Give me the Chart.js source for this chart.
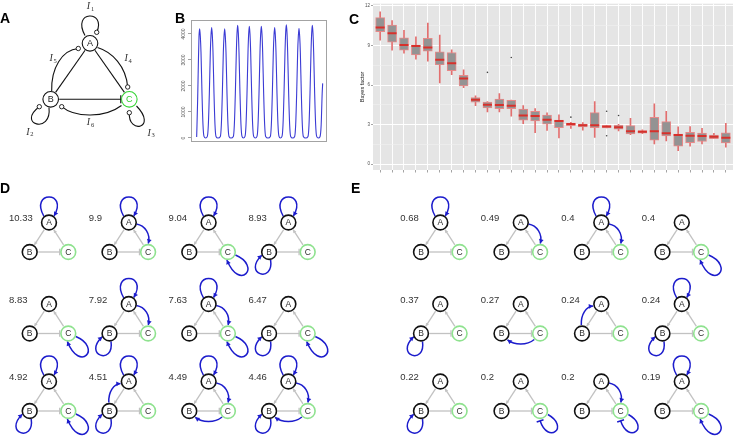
<!DOCTYPE html>
<html>
<head>
<meta charset="utf-8">
<script src="https://cdn.jsdelivr.net/npm/chart.js@4.4.0/dist/chart.umd.min.js"></script>
<style>
  body { margin: 0; background: #fff; }
  #page { position: relative; width: 733px; height: 437px; overflow: hidden; background: #fff;
          font-family: "Liberation Sans", Arial, sans-serif; }
  canvas { position: absolute; }
  .tag { position: absolute; font-weight: bold; font-size: 14px; line-height: 14px; color: #000; }
</style>
</head>
<body>
<div id="page">
  <canvas id="netA" width="172" height="145" style="left:0;top:0"></canvas>
  <canvas id="oscB" width="151" height="134" style="left:176px;top:8px"></canvas>
  <canvas id="bayesC" width="393" height="180" style="left:340px;top:0"></canvas>
  <canvas id="motifs" width="733" height="257" style="left:0;top:180px"></canvas>
  <div class="tag" style="left:0;top:11px">A</div>
  <div class="tag" style="left:175px;top:11px">B</div>
  <div class="tag" style="left:349px;top:12px">C</div>
  <div class="tag" style="left:0;top:181px">D</div>
  <div class="tag" style="left:351px;top:181px">E</div>
</div>
<script>
// ─────────────────────────────────────────────────────────────
// DATA
// ─────────────────────────────────────────────────────────────
// panel A: network
const nodeNamesA = ['A', 'B', 'C'];
const nodeXA = [90, 50.7, 129.3];
const nodeYA = [43.3, 99.3, 99.3];
const interactionsA = ['I1', 'I2', 'I3', 'I4', 'I5', 'I6'];

// panel B: time course of C
const timeB = [
  0, 3, 5, 7, 9, 11, 13, 16, 19, 22, 27,
  32, 35, 38, 41, 43, 45, 47, 49, 52, 55, 58, 64,
  71, 74, 77, 80, 82, 84, 86, 88, 91, 94, 97, 103,
  110, 113, 116, 119, 121, 123, 125, 127, 130, 133, 136, 140,
  145, 148, 151, 154, 156, 158, 160, 162, 165, 168, 171, 176,
  181, 184, 187, 190, 192, 194, 196, 198, 201, 204, 207, 214,
  221, 224, 227, 230, 232, 234, 236, 238, 241, 244, 247, 251,
  256, 259, 262, 265, 267, 269, 271, 273, 276, 279, 282, 288,
  294, 297, 300, 303, 305, 307, 309, 311, 314, 317, 320, 327,
  334, 337, 340, 343, 345, 347, 349, 351, 354, 357, 360, 365,
  370, 373.5, 376.5, 378
];
const levelB = [
  40, 1500, 2800, 3900, 4200, 3900, 3300, 1700, 500, 60, 0,
  60, 500, 1700, 3300, 3950, 4250, 3950, 3300, 1700, 500, 60, 0,
  60, 500, 1700, 3300, 3900, 4200, 3900, 3300, 1700, 500, 60, 0,
  60, 500, 1700, 3300, 4030, 4330, 4030, 3300, 1700, 500, 60, 0,
  60, 500, 1700, 3300, 4000, 4300, 4000, 3300, 1700, 500, 60, 0,
  60, 500, 1700, 3300, 4000, 4300, 4000, 3300, 1700, 500, 60, 0,
  60, 500, 1700, 3300, 3950, 4250, 3950, 3300, 1700, 500, 60, 0,
  60, 500, 1700, 3300, 4050, 4350, 4050, 3300, 1700, 500, 60, 0,
  60, 500, 1700, 3300, 3920, 4220, 3920, 3300, 1700, 500, 60, 0,
  60, 500, 1700, 3300, 4030, 4330, 4030, 3300, 1700, 500, 60, 0,
  50, 500, 1700, 2100
];
const ticksB = [0, 1000, 2000, 3000, 4000];

// panel C: Bayes factor box plots (30 models)
const bfHigh = [11.56, 10.89, 10.15, 9.65, 10.69, 9.78, 8.66, 7.15, 5.17, 4.75, 5.35, 4.85, 4.43, 4.21, 3.89,
                3.74, 3.17, 3.14, 4.75, 2.92, 3.02, 3.47, 2.60, 4.58, 4.01, 2.82, 2.85, 2.72, 2.33, 3.09];
const bfQ3   = [11.11, 10.54, 9.58, 9.03, 9.55, 8.51, 8.47, 6.73, 5.05, 4.70, 4.93, 4.83, 4.18, 4.01, 3.71,
                3.34, 3.12, 3.04, 3.91, 2.92, 2.95, 2.92, 2.55, 3.54, 3.22, 2.28, 2.40, 2.35, 2.20, 2.38];
const bfMed  = [10.37, 9.93, 9.03, 8.96, 8.84, 7.92, 7.65, 6.49, 4.88, 4.50, 4.48, 4.43, 3.69, 3.64, 3.37,
                3.27, 3.04, 2.95, 2.95, 2.85, 2.80, 2.50, 2.45, 2.50, 2.33, 2.20, 2.15, 2.13, 2.08, 2.00];
const bfQ1   = [10.05, 9.26, 8.64, 8.29, 8.56, 7.52, 7.08, 5.94, 4.70, 4.26, 4.21, 4.21, 3.34, 3.27, 3.02,
                2.77, 2.92, 2.82, 2.77, 2.75, 2.65, 2.28, 2.35, 1.81, 2.13, 1.36, 1.63, 1.71, 1.93, 1.61];
const bfLow  = [9.41, 8.64, 8.42, 7.97, 7.80, 6.16, 6.78, 5.79, 4.43, 3.96, 3.96, 3.64, 3.07, 2.38, 2.55,
                1.98, 2.70, 2.57, 2.03, 2.75, 2.52, 2.23, 2.30, 1.53, 1.76, 1.01, 1.36, 1.53, 1.93, 1.29];
const outlierIdx = [10, 12, 17, 20, 20, 21];
const outlierVal = [6.96, 8.09, 3.56, 4.01, 2.15, 3.69];
const gridC = [0, 1.5, 3, 4.5, 6, 7.5, 9, 10.5, 12];

// panels D, E: top models and their Bayes factors
const scoresD = [10.33, 9.9, 9.04, 8.93, 8.83, 7.92, 7.63, 6.47, 4.92, 4.51, 4.49, 4.46];
const linksD = [['AA'], ['AA', 'AC'], ['AA', 'CC'], ['AA', 'BB'],
                ['CC'], ['AA', 'AC', 'BB'], ['AA', 'AC', 'CC'], ['BB', 'CC'],
                ['AA', 'BB', 'CC'], ['AA', 'BA', 'BB'], ['AA', 'AC', 'CB'], ['AA', 'AC', 'CB', 'BB']];
const scoresE = [0.68, 0.49, 0.4, 0.4, 0.37, 0.27, 0.24, 0.24, 0.22, 0.2, 0.2, 0.19];
const linksE = [['AA'], ['AC'], ['AA', 'AC'], ['CC'],
                ['BB'], ['CB'], ['BA'], ['AA', 'BB'],
                ['BB'], ['CCi'], ['AC', 'CCi'], ['AA', 'CC']];

// ─────────────────────────────────────────────────────────────
// HELPERS
// ─────────────────────────────────────────────────────────────
Chart.defaults.font.family = '"Liberation Sans", Arial, sans-serif';
Chart.defaults.animation = false;

const BLUE = '#1c1ccc';
const GREY = '#c2c2c2';

const px = (chart, x, y) => [chart.scales.x.getPixelForValue(x), chart.scales.y.getPixelForValue(y)];

function arrowHead(ctx, tip, from, color, len, half) {
  const dx = tip[0] - from[0], dy = tip[1] - from[1];
  const d = Math.hypot(dx, dy) || 1;
  const ux = dx / d, uy = dy / d;
  ctx.beginPath();
  ctx.moveTo(tip[0], tip[1]);
  ctx.lineTo(tip[0] - ux * len - uy * half, tip[1] - uy * len + ux * half);
  ctx.lineTo(tip[0] - ux * len + uy * half, tip[1] - uy * len - ux * half);
  ctx.closePath();
  ctx.fillStyle = color;
  ctx.fill();
}

function barHead(ctx, tip, from, color, half, width) {
  const dx = tip[0] - from[0], dy = tip[1] - from[1];
  const d = Math.hypot(dx, dy) || 1;
  const nx = -dy / d, ny = dx / d;
  ctx.beginPath();
  ctx.moveTo(tip[0] + nx * half, tip[1] + ny * half);
  ctx.lineTo(tip[0] - nx * half, tip[1] - ny * half);
  ctx.strokeStyle = color;
  ctx.lineWidth = width;
  ctx.stroke();
}

function smallDot(ctx, p) {
  ctx.beginPath();
  ctx.arc(p[0], p[1], 2.2, 0, Math.PI * 2);
  ctx.fillStyle = '#fff';
  ctx.fill();
  ctx.lineWidth = 0.9;
  ctx.strokeStyle = '#111';
  ctx.stroke();
}

function curve(ctx, pts, color, width) {
  ctx.beginPath();
  ctx.moveTo(pts[0][0], pts[0][1]);
  ctx.bezierCurveTo(pts[1][0], pts[1][1], pts[2][0], pts[2][1], pts[3][0], pts[3][1]);
  ctx.strokeStyle = color;
  ctx.lineWidth = width;
  ctx.stroke();
}

function trimmed(p, q, ra, rb) {
  const dx = q[0] - p[0], dy = q[1] - p[1];
  const d = Math.hypot(dx, dy);
  return [[p[0] + dx / d * ra, p[1] + dy / d * ra], [q[0] - dx / d * rb, q[1] - dy / d * rb]];
}

// ─────────────────────────────────────────────────────────────
// PANEL A: network scheme
// ─────────────────────────────────────────────────────────────
const curvesA = {
  I1: { pts: [[85, 35.5], [71, 10], [107, 10], [96.7, 32.3]], dot: 3, label: [90, 6.5] },
  I2: { pts: [[49, 107.5], [52, 135], [16, 124], [39.3, 106.7]], dot: 3, label: [29.3, 132] },
  I3: { pts: [[129.3, 112.7], [128, 135], [158, 128], [136.5, 106]], dot: 0, label: [150.7, 133] },
  I4: { pts: [[97.5, 47.5], [112, 52], [126, 66], [127.7, 87]], dot: 3, label: [127.7, 58.3] },
  I5: { pts: [[51.7, 91], [51, 68], [62, 50], [78.3, 48.5]], dot: 3, label: [52.7, 58.3] },
  I6: { pts: [[61.7, 106.7], [75, 118], [105, 118], [121.5, 105.5]], dot: 0, label: [90, 122.7] },
};

const netAPlugin = {
  id: 'netA',
  beforeDatasetsDraw(chart) {
    const ctx = chart.ctx;
    const at = i => px(chart, nodeXA[i], nodeYA[i]);
    ctx.save();
    ctx.lineCap = 'butt';
    // straight links
    const [a1, b1] = trimmed(at(0), at(1), 8.5, 8.5);
    const [a2, c2] = trimmed(at(0), at(2), 8.5, 8.5);
    const [b3, c3] = trimmed(at(1), at(2), 8.5, 8.5);
    [[a1, b1], [a2, c2], [b3, c3]].forEach(([p, q]) => {
      ctx.beginPath(); ctx.moveTo(p[0], p[1]); ctx.lineTo(q[0], q[1]);
      ctx.strokeStyle = '#111'; ctx.lineWidth = 1.1; ctx.stroke();
    });
    barHead(ctx, c3, b3, '#111', 4, 1.2);
    // interaction curves
    interactionsA.forEach(name => {
      const c = curvesA[name];
      const pts = c.pts.map(p => px(chart, p[0], p[1]));
      curve(ctx, pts, '#111', 1.1);
      smallDot(ctx, pts[c.dot]);
    });
    ctx.restore();
  },
  afterDatasetsDraw(chart) {
    const ctx = chart.ctx;
    ctx.save();
    ctx.textAlign = 'center';
    ctx.textBaseline = 'middle';
    ctx.font = '9px "Liberation Sans", Arial, sans-serif';
    nodeNamesA.forEach((n, i) => {
      const p = px(chart, nodeXA[i], nodeYA[i]);
      ctx.fillStyle = n === 'C' ? '#2fcf2f' : '#222';
      ctx.fillText(n, p[0], p[1] + 0.5);
    });
    interactionsA.forEach(name => {
      const p = px(chart, curvesA[name].label[0], curvesA[name].label[1]);
      ctx.fillStyle = '#333';
      ctx.font = 'italic 10px "Liberation Serif", "DejaVu Serif", serif';
      ctx.fillText(name[0], p[0] - 1.5, p[1]);
      ctx.font = '6.5px "Liberation Serif", "DejaVu Serif", serif';
      ctx.fillText(name.slice(1), p[0] + 2.5, p[1] + 2.5);
    });
    ctx.restore();
  }
};

new Chart(document.getElementById('netA'), {
  type: 'scatter',
  data: {
    datasets: [{
      data: nodeNamesA.map((n, i) => ({ x: nodeXA[i], y: nodeYA[i] })),
      pointRadius: 7.8,
      pointBorderWidth: 1.1,
      pointBackgroundColor: '#fff',
      pointBorderColor: nodeNamesA.map(n => n === 'C' ? '#35d435' : '#111'),
      clip: false,
    }]
  },
  options: {
    responsive: false, events: [],
    layout: { padding: 0, autoPadding: false },
    plugins: { legend: { display: false }, tooltip: { enabled: false } },
    scales: {
      x: { type: 'linear', min: 0, max: 172, display: false },
      y: { type: 'linear', min: 0, max: 145, reverse: true, display: false },
    }
  },
  plugins: [netAPlugin]
});

// ─────────────────────────────────────────────────────────────
// PANEL B: oscillation
// ─────────────────────────────────────────────────────────────
const frameB = {
  id: 'frameB',
  afterDraw(chart) {
    const { ctx, chartArea: a } = chart;
    ctx.save();
    ctx.strokeStyle = '#a3a3a3';
    ctx.lineWidth = 1;
    ctx.strokeRect(Math.round(a.left) + 0.5, Math.round(a.top) + 0.5,
                   Math.round(a.right - a.left) - 1, Math.round(a.bottom - a.top) - 1);
    // rotated y tick labels, R style
    const s = chart.scales.y;
    ctx.fillStyle = '#555';
    ctx.font = '5px "Liberation Sans", Arial, sans-serif';
    ctx.textAlign = 'center';
    ctx.textBaseline = 'middle';
    s.ticks.forEach(t => {
      ctx.save();
      ctx.translate(a.left - 7, s.getPixelForValue(t.value));
      ctx.rotate(-Math.PI / 2);
      ctx.fillText(String(t.value), 0, 0);
      ctx.restore();
    });
    ctx.restore();
  }
};

new Chart(document.getElementById('oscB'), {
  type: 'line',
  data: {
    datasets: [{
      data: timeB.map((t, i) => ({ x: t, y: levelB[i] })),
      borderColor: '#3b3bd4',
      borderWidth: 1.1,
      pointRadius: 0,
      cubicInterpolationMode: 'monotone',
      fill: false,
    }]
  },
  options: {
    responsive: false, events: [],
    layout: { padding: { top: 12, right: 0, bottom: 0, left: 0 }, autoPadding: false },
    plugins: { legend: { display: false }, tooltip: { enabled: false } },
    scales: {
      x: { type: 'linear', min: -17, max: 391, display: false },
      y: {
        type: 'linear', min: -154, max: 4538,
        afterBuildTicks: s => { s.ticks = ticksB.map(v => ({ value: v })); },
        afterFit: s => { s.width = 15; },
        ticks: { display: false },
        grid: { drawOnChartArea: false, drawTicks: true, tickLength: 3, tickColor: '#8a8a8a', tickWidth: 0.8 },
        border: { display: false },
      }
    }
  },
  plugins: [frameB]
});

// ─────────────────────────────────────────────────────────────
// PANEL C: Bayes factor box plots
// ─────────────────────────────────────────────────────────────
const ggBackground = {
  id: 'ggBackground',
  beforeDraw(chart) {
    const { ctx, chartArea: a } = chart;
    ctx.save();
    ctx.fillStyle = '#e5e5e5';
    ctx.fillRect(a.left, a.top, a.right - a.left, a.bottom - a.top);
    ctx.restore();
  }
};

const modelIdx = bfMed.map((v, i) => i + 1);

new Chart(document.getElementById('bayesC'), {
  type: 'bar',
  data: {
    datasets: [
      {
        type: 'bar',
        data: modelIdx.map((x, i) => ({ x, y: [bfLow[i], bfHigh[i]] })),
        backgroundColor: '#e36f6f',
        barThickness: 1,
        order: 4,
      },
      {
        type: 'bar',
        data: modelIdx.map((x, i) => ({ x, y: [bfQ1[i], bfQ3[i]] })),
        backgroundColor: '#939393',
        borderColor: '#e88888',
        borderWidth: 1,
        borderSkipped: false,
        barThickness: 9,
        order: 3,
      },
      {
        type: 'scatter',
        data: modelIdx.map((x, i) => ({ x, y: bfMed[i] })),
        pointStyle: 'line',
        pointRadius: 4.5,
        borderColor: '#d7302b',
        borderWidth: 2,
        order: 2,
      },
      {
        type: 'scatter',
        data: outlierIdx.map((x, i) => ({ x, y: outlierVal[i] })),
        pointRadius: 0.8,
        backgroundColor: '#444',
        borderWidth: 0,
        order: 1,
      }
    ]
  },
  options: {
    responsive: false, events: [],
    layout: { padding: 0, autoPadding: false },
    datasets: { bar: { grouped: false } },
    plugins: { legend: { display: false }, tooltip: { enabled: false } },
    scales: {
      x: {
        type: 'linear', min: 0.4, max: 30.6, offset: false,
        afterBuildTicks: s => { s.ticks = modelIdx.map(v => ({ value: v })); },
        afterFit: s => { s.height = 10; },
        ticks: { callback: () => '', font: { size: 4 } },
        grid: { offset: false, color: '#ffffff', lineWidth: 0.9, drawTicks: true, tickLength: 2.5,
                tickColor: '#666', tickWidth: 0.6 },
        border: { display: false },
      },
      y: {
        type: 'linear', min: -0.45, max: 12.17,
        afterBuildTicks: s => { s.ticks = gridC.map(v => ({ value: v })); },
        afterFit: s => { s.width = 33; },
        ticks: {
          callback: v => (v % 3 === 0 ? String(v) : ''),
          font: { size: 4.5 }, color: '#4d4d4d', padding: 1,
        },
        grid: {
          color: c => (c.tick && c.tick.value % 3 === 0 ? '#ffffff' : '#f0f0f0'),
          lineWidth: c => (c.tick && c.tick.value % 3 === 0 ? 1 : 0.6),
          drawTicks: true, tickLength: 2,
          tickColor: c => (c.tick && c.tick.value % 3 === 0 ? '#666' : 'rgba(0,0,0,0)'),
          tickWidth: 0.6,
        },
        border: { display: false },
        title: { display: true, text: 'Bayes factor', color: '#111', font: { size: 5.5 },
                 padding: { top: 18.7, bottom: 0 } },
      }
    }
  },
  plugins: [ggBackground]
});

// ─────────────────────────────────────────────────────────────
// PANELS D, E: model motifs
// ─────────────────────────────────────────────────────────────
const LAYOUT = {
  D: { x0: 49, dx: 79.8 },
  E: { x0: 440.3, dx: 80.5 },
  rows: [222.5, 304, 381.5],
  B: [-19.3, 29.5],
  C: [19.3, 29.5],
};

// blue interaction paths, relative to node A of a motif
const LINK_PATHS = {
  AA:  { pts: [[-5, -6], [-20, -32], [20, -32], [5, -6.5]], end: 'arrow' },
  BB:  { pts: [[-17.8, 37.3], [-14.3, 61.5], [-46.3, 51.5], [-26.6, 32.7]], end: 'arrow' },
  CC:  { pts: [[26.8, 32.5], [53.3, 43.5], [31.3, 69.5], [18.3, 37.5]], end: 'arrow' },
  CCi: { pts: [[27.1, 33], [49.3, 45.5], [27.3, 63.5], [19.3, 39.3]], end: 'bar' },
  AC:  { pts: [[7.6, 1.5], [16, 3], [22, 11], [19.5, 21]], end: 'arrow' },
  CB:  { pts: [[13.5, 35.5], [6, 41.5], [-6, 41.5], [-13.3, 35.8]], end: 'arrow' },
  BA:  { pts: [[-20, 21], [-20.5, 10], [-15, 2.5], [-8.3, 2]], end: 'arrow' },
};

const motifList = [];
[['D', scoresD, linksD], ['E', scoresE, linksE]].forEach(([panel, scores, links]) => {
  scores.forEach((score, k) => {
    motifList.push({
      x: LAYOUT[panel].x0 + (k % 4) * LAYOUT[panel].dx,
      y: LAYOUT.rows[Math.floor(k / 4)],
      score, links: links[k],
    });
  });
});

const motifNodes = [];
motifList.forEach(m => {
  motifNodes.push({ x: m.x, y: m.y, name: 'A' });
  motifNodes.push({ x: m.x + LAYOUT.B[0], y: m.y + LAYOUT.B[1], name: 'B' });
  motifNodes.push({ x: m.x + LAYOUT.C[0], y: m.y + LAYOUT.C[1], name: 'C' });
});

const motifPlugin = {
  id: 'motifs',
  beforeDatasetsDraw(chart) {
    const ctx = chart.ctx;
    ctx.save();
    ctx.lineCap = 'butt';
    motifList.forEach(m => {
      const A = px(chart, m.x, m.y);
      const B = px(chart, m.x + LAYOUT.B[0], m.y + LAYOUT.B[1]);
      const C = px(chart, m.x + LAYOUT.C[0], m.y + LAYOUT.C[1]);
      // grey backbone: A -> B, C -> A, B -| C
      [[A, B, 'arrow'], [C, A, 'arrow'], [B, C, 'bar']].forEach(([p, q, end]) => {
        const [s, e] = trimmed(p, q, 8.6, 8.6);
        ctx.beginPath(); ctx.moveTo(s[0], s[1]); ctx.lineTo(e[0], e[1]);
        ctx.strokeStyle = GREY; ctx.lineWidth = 1.3; ctx.stroke();
        if (end === 'arrow') arrowHead(ctx, e, s, GREY, 3.2, 1.8);
        else barHead(ctx, e, s, GREY, 3.3, 1.3);
      });
      // blue links of the model
      m.links.forEach(code => {
        const path = LINK_PATHS[code];
        const pts = path.pts.map(p => px(chart, m.x + p[0], m.y + p[1]));
        curve(ctx, pts, BLUE, 1.5);
        if (path.end === 'arrow') arrowHead(ctx, pts[3], pts[2], BLUE, 4.2, 2.4);
        else barHead(ctx, pts[3], pts[2], BLUE, 3.6, 1.5);
      });
    });
    ctx.restore();
  },
  afterDatasetsDraw(chart) {
    const ctx = chart.ctx;
    ctx.save();
    ctx.textBaseline = 'middle';
    ctx.fillStyle = '#2b2b2b';
    ctx.font = '8.5px "Liberation Sans", Arial, sans-serif';
    ctx.textAlign = 'center';
    motifNodes.forEach(n => {
      const p = px(chart, n.x, n.y);
      ctx.fillText(n.name, p[0], p[1] + 0.5);
    });
    ctx.font = '9.5px "Liberation Sans", Arial, sans-serif';
    ctx.textAlign = 'left';
    ctx.fillStyle = '#333';
    motifList.forEach(m => {
      const p = px(chart, m.x - 40, m.y - 4);
      ctx.fillText(String(m.score), p[0], p[1]);
    });
    ctx.restore();
  }
};

new Chart(document.getElementById('motifs'), {
  type: 'scatter',
  data: {
    datasets: [{
      data: motifNodes.map(n => ({ x: n.x, y: n.y })),
      pointRadius: 7.4,
      pointBorderWidth: 1.6,
      pointBackgroundColor: '#fff',
      pointBorderColor: motifNodes.map(n => n.name === 'C' ? '#8fe28f' : '#111'),
      clip: false,
    }]
  },
  options: {
    responsive: false, events: [],
    layout: { padding: 0, autoPadding: false },
    plugins: { legend: { display: false }, tooltip: { enabled: false } },
    scales: {
      x: { type: 'linear', min: 0, max: 733, display: false },
      y: { type: 'linear', min: 180, max: 437, reverse: true, display: false },
    }
  },
  plugins: [motifPlugin]
});
</script>
</body>
</html>
